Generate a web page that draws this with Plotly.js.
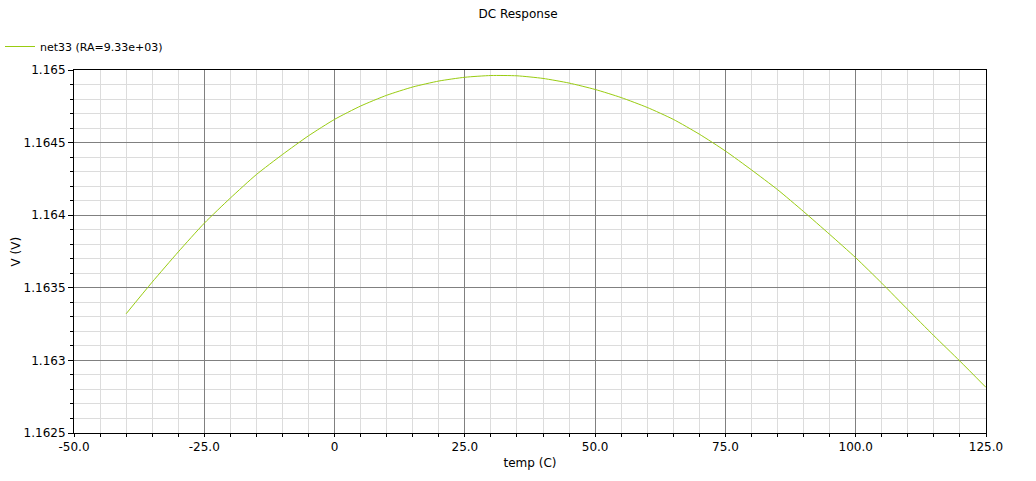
<!DOCTYPE html>
<html>
<head>
<meta charset="utf-8">
<script src="https://cdn.plot.ly/plotly-3.0.1.min.js"></script>
<style>html,body{margin:0;padding:0;background:#fff;}#chart{width:1036px;height:481px;}</style>
</head>
<body>
<div id="chart"></div>
<script>
const temps = [-40,-35,-30,-25,-20,-15,-10,-5,0,5,10,15,20,25,30,35,40,45,50,55,60,65,70,75,80,85,90,95,100,105,110,115,120,125];
const volts = [1.163321,1.163539,1.163747,1.163945,1.164118,1.164280,1.164418,1.164547,1.164660,1.164752,1.164826,1.164883,1.164924,1.164950,1.164962,1.164960,1.164942,1.164910,1.164866,1.164810,1.164742,1.164660,1.164558,1.164442,1.164312,1.164176,1.164025,1.163868,1.163707,1.163532,1.163350,1.163170,1.162995,1.162814];
const xTickVals = [-50,-25,0,25,50,75,100,125];
const xTickText = ["-50.0","-25.0","0","25.0","50.0","75.0","100.0","125.0"];
const yTickVals = [1.1625,1.163,1.1635,1.164,1.1645,1.165];
const yTickText = ["1.1625","1.163","1.1635","1.164","1.1645","1.165"];
const seriesName = "net33 (RA=9.33e+03)";
const yTitle = "V (V)";

const font = {family: "DejaVu Sans, sans-serif", size: 12, color: "#000"};

Plotly.newPlot("chart", [{
  x: temps, y: volts, type: "scatter", mode: "lines", name: seriesName,
  line: {color: "#99cc11", width: 1, shape: "spline", smoothing: 0.6}
}], {
  width: 1036, height: 481,
  margin: {l: 74, r: 50, t: 70, b: 48, pad: 0, autoexpand: false},
  paper_bgcolor: "#fff", plot_bgcolor: "#fff",
  font: font,
  showlegend: true,
  title: {text: "DC Response", font: {family: font.family, size: 12, color: "#000"}, xref: "container", x: 0.5, xanchor: "center", yref: "container", y: 1 - 14/481, yanchor: "middle"},
  legend: {xref: "container", yref: "container", x: 0.0, y: 1 - 32/481, xanchor: "left", yanchor: "top", font: {family: font.family, size: 11, color: "#000"}, bgcolor: "rgba(0,0,0,0)", borderwidth: 0},
  annotations: [{
    text: yTitle, xref: "paper", yref: "paper", x: (15 - 74) / 912, y: 0.5,
    xanchor: "center", yanchor: "middle", textangle: -90, showarrow: false,
    font: {family: font.family, size: 12, color: "#000"}
  }],
  xaxis: {
    automargin: true,
    range: [-50, 125], tickmode: "array", tickvals: xTickVals, ticktext: xTickText,
    ticks: "outside", ticklen: 3, tickcolor: "#000", tickwidth: 1,
    showline: true, linecolor: "#000", linewidth: 1, mirror: true,
    showgrid: true, gridcolor: "#808080", gridwidth: 1, zeroline: false,
    minor: {dtick: 5, tick0: 0, ticks: "outside", ticklen: 3, tickcolor: "#000", showgrid: true, gridcolor: "#dcdcdc", gridwidth: 1},
    tickfont: {family: font.family, size: 12, color: "#000"},
    title: {text: "temp (C)", font: {family: font.family, size: 12, color: "#000"}, standoff: 5}
  },
  yaxis: {
    automargin: false,
    range: [1.1625, 1.165], tickmode: "array", tickvals: yTickVals, ticktext: yTickText,
    ticks: "outside", ticklen: 5, tickcolor: "#000", tickwidth: 1,
    showline: true, linecolor: "#000", linewidth: 1, mirror: true,
    showgrid: true, gridcolor: "#808080", gridwidth: 1, zeroline: false,
    minor: {dtick: 0.0001, tick0: 1.1625, ticks: "outside", ticklen: 3, tickcolor: "#000", showgrid: true, gridcolor: "#dcdcdc", gridwidth: 1},
    tickfont: {family: font.family, size: 12, color: "#000"}
  }
}, {displayModeBar: false, staticPlot: true});
</script>
</body>
</html>
